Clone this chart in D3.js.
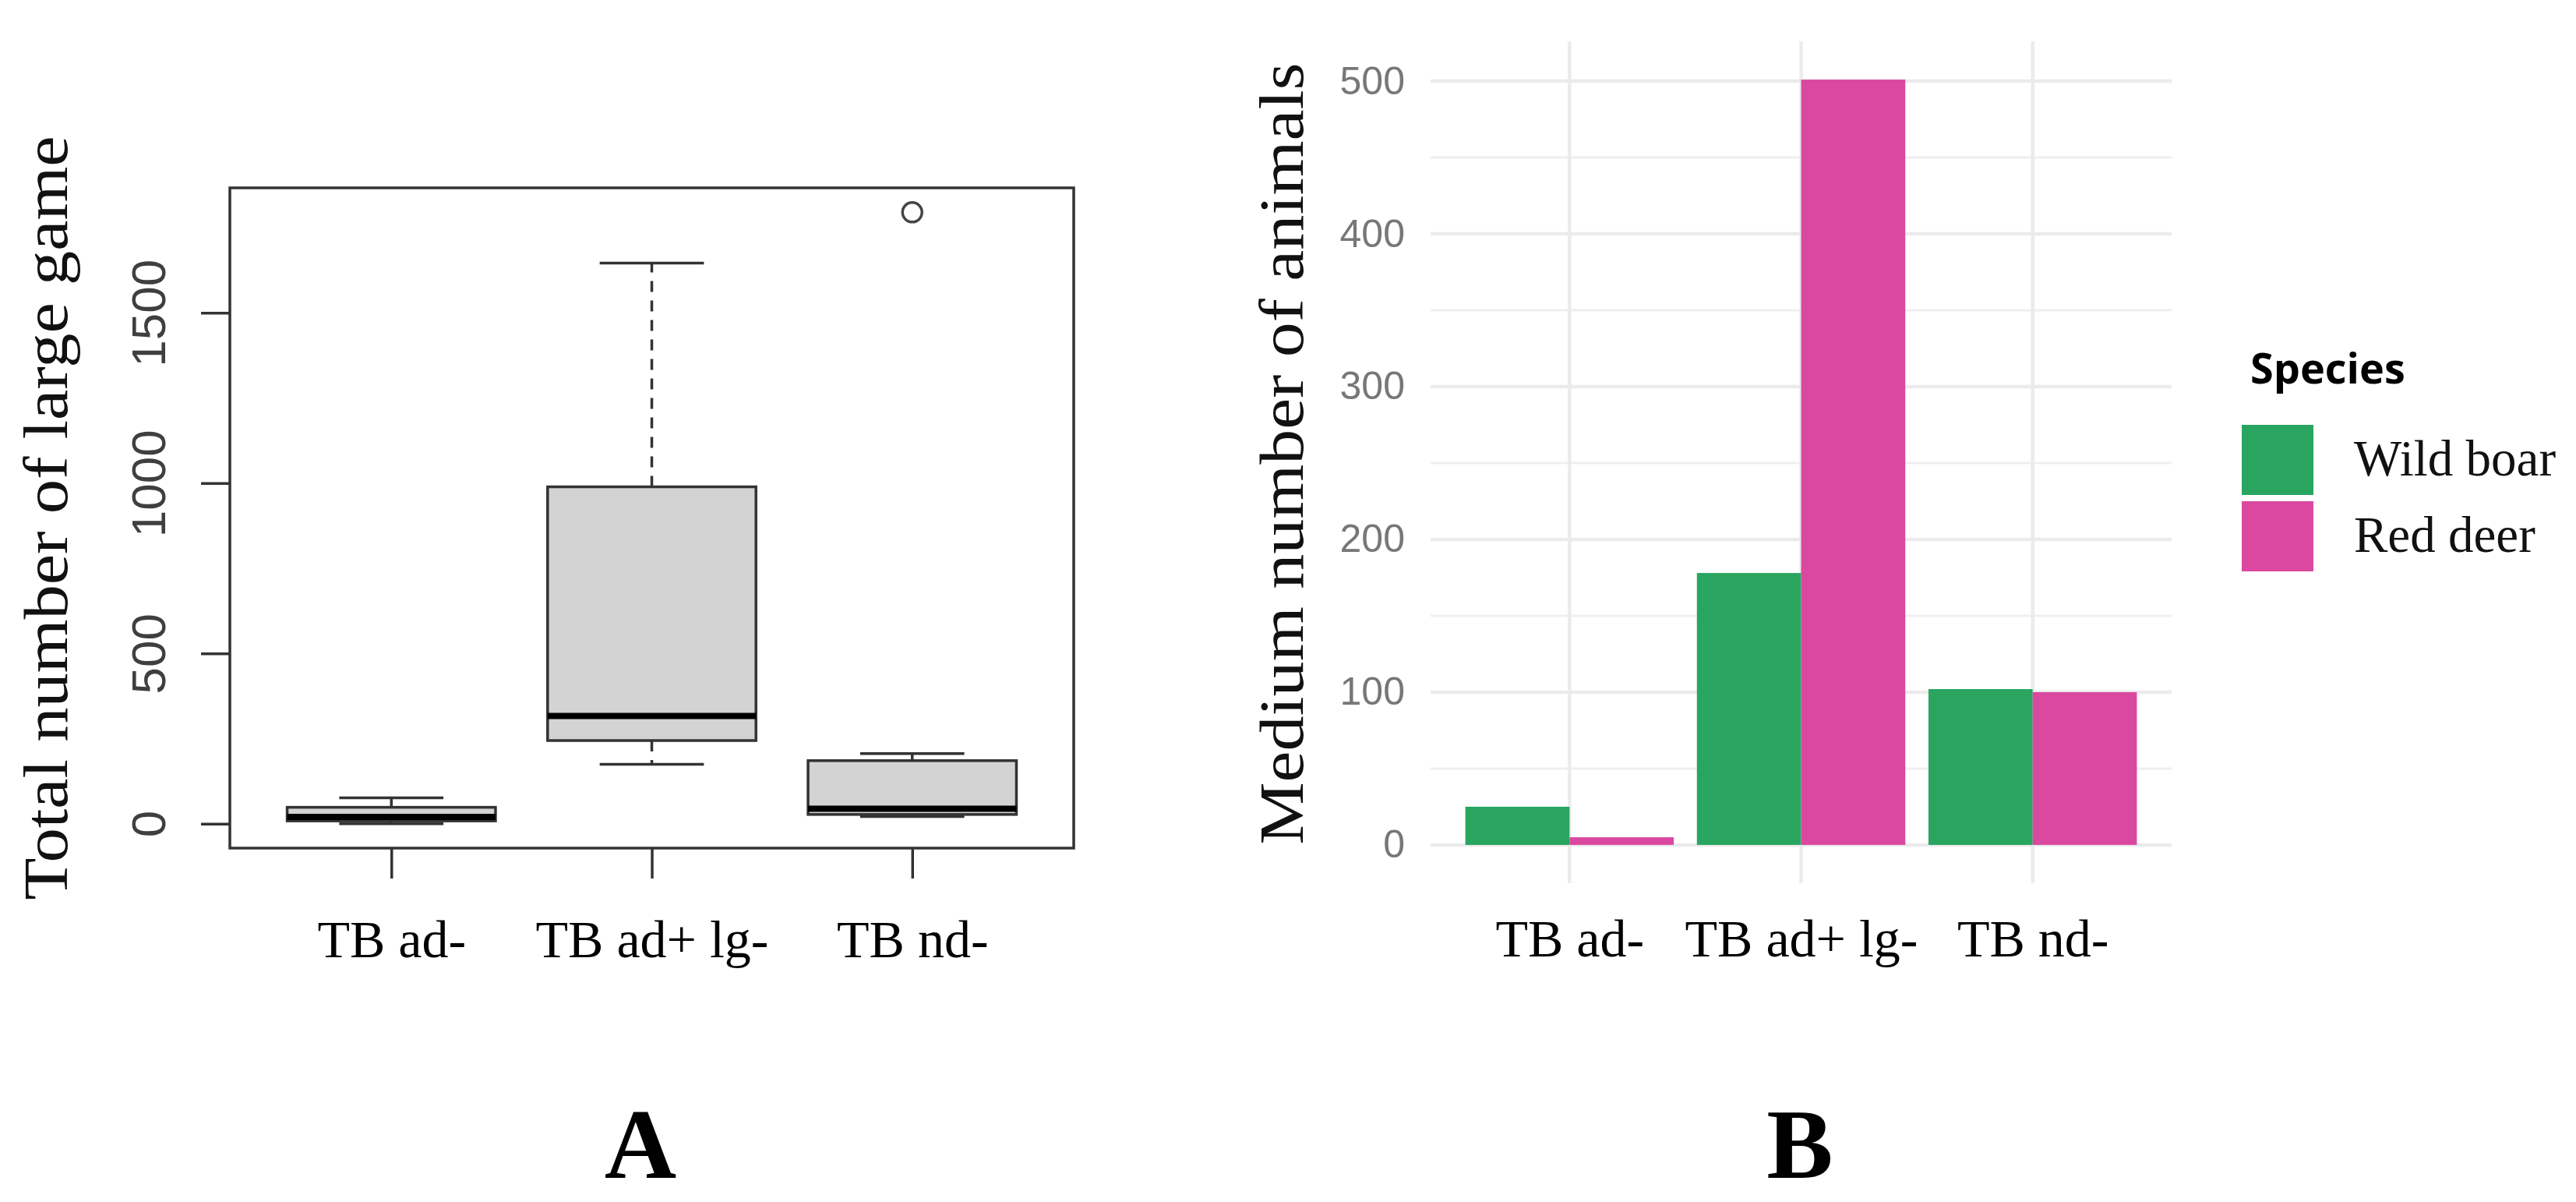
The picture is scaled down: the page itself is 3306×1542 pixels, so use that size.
<!DOCTYPE html>
<html><head><meta charset="utf-8">
<script src="https://cdn.jsdelivr.net/npm/d3@7"></script>
<style>html,body{margin:0;padding:0;background:#fff;} svg{display:block}</style>
</head><body>
<svg id="chart" width="3306" height="1542"></svg>
<script>
// ---------------- data ----------------
const categories = ["TB ad-", "TB ad+ lg-", "TB nd-"];
// Panel A: boxplot statistics per category
const whiskerLow  = [0, 174, 21];
const quartile1   = [8, 244, 27];
const medians     = [20, 316, 44];
const quartile3   = [48, 989, 185];
const whiskerHigh = [76, 1646, 206];
const outliers    = [[], [], [1795]];
const yTicksA     = [0, 500, 1000, 1500];
const titleA      = "Total number of large game";
// Panel B: grouped bars
const species     = ["Wild boar", "Red deer"];
const wildBoar    = [25, 178, 102];
const redDeer     = [5, 501, 100];
const yTicksB     = [0, 100, 200, 300, 400, 500];
const minorTicksB = [50, 150, 250, 350, 450];
const titleB      = "Medium number of animals";
const legendTitle = "Species";
const speciesColors = ["#29A560", "#DB489F"];
const panelLetters = ["A", "B"];

// ---------------- layout ----------------
const svg = d3.select("#chart");
svg.append("rect").attr("width", 3306).attr("height", 1542).attr("fill", "#fff");
const SERIF = "'Liberation Serif', 'DejaVu Serif', serif";
const SANS = "'Liberation Sans', Arial, sans-serif";

// ===== Panel A =====
const A = {left: 295, right: 1378, top: 241, bottom: 1088};
const allA = whiskerLow.concat(whiskerHigh, outliers.flat());
const minA = d3.min(allA), maxA = d3.max(allA);
const padA = (maxA - minA) * 0.04;
const yA = d3.scaleLinear().domain([minA - padA, maxA + padA]).range([A.bottom, A.top]);
const xA = d3.scaleLinear().domain([0.5 - 0.12, 3.5 + 0.12]).range([A.left, A.right]);
const gA = svg.append("g");

// y axis ticks
const yAxisA = gA.append("g").attr("transform", `translate(${A.left},0)`)
  .call(d3.axisLeft(yA).tickValues(yTicksA).tickSize(37).tickFormat(d3.format("d")));
yAxisA.select(".domain").remove();
yAxisA.selectAll(".tick line").attr("stroke", "#333").attr("stroke-width", 3.5);
yAxisA.selectAll(".tick text")
  .attr("x", null).attr("dy", null).attr("y", null)
  .attr("transform", `translate(${212 - A.left},0) rotate(-90)`)
  .attr("text-anchor", "middle")
  .attr("font-family", SANS).attr("font-size", 62).attr("fill", "#3f3f3f");

// x axis ticks
const xAxisA = gA.append("g").attr("transform", `translate(0,${A.bottom})`)
  .call(d3.axisBottom(xA).tickValues([1, 2, 3]).tickSize(39).tickFormat(d => categories[d - 1]));
xAxisA.select(".domain").remove();
xAxisA.selectAll(".tick line").attr("stroke", "#333").attr("stroke-width", 3.5);
xAxisA.selectAll(".tick text").attr("y", 140).attr("dy", null)
  .attr("font-family", SERIF).attr("font-size", 68).attr("fill", "#000");

// title A
gA.append("text").attr("transform", `translate(86,${(A.top + A.bottom) / 2}) rotate(-90)`)
  .attr("text-anchor", "middle").attr("font-family", SERIF).attr("font-size", 80)
  .attr("textLength", 980).attr("lengthAdjust", "spacingAndGlyphs")
  .attr("fill", "#111").text(titleA);

// boxes
const unitA = xA(2) - xA(1);
const boxHalf = 0.4 * unitA, capHalf = 0.2 * unitA;
categories.forEach((c, i) => {
  const cx = xA(i + 1);
  const g = gA.append("g");
  // whiskers (dashed)
  g.append("line").attr("x1", cx).attr("x2", cx)
    .attr("y1", yA(quartile3[i])).attr("y2", yA(whiskerHigh[i]))
    .attr("stroke", "#333").attr("stroke-width", 3.5).attr("stroke-dasharray", "14,11");
  g.append("line").attr("x1", cx).attr("x2", cx)
    .attr("y1", yA(quartile1[i])).attr("y2", yA(whiskerLow[i]))
    .attr("stroke", "#333").attr("stroke-width", 3.5).attr("stroke-dasharray", "14,11");
  // staples
  [whiskerHigh[i], whiskerLow[i]].forEach(v => {
    g.append("line").attr("x1", cx - capHalf).attr("x2", cx + capHalf)
      .attr("y1", yA(v)).attr("y2", yA(v))
      .attr("stroke", "#333").attr("stroke-width", 3.5);
  });
  // box
  g.append("rect").attr("x", cx - boxHalf).attr("width", 2 * boxHalf)
    .attr("y", yA(quartile3[i])).attr("height", yA(quartile1[i]) - yA(quartile3[i]))
    .attr("fill", "#d3d3d3").attr("stroke", "#333").attr("stroke-width", 3.5);
  // median
  g.append("line").attr("x1", cx - boxHalf).attr("x2", cx + boxHalf)
    .attr("y1", yA(medians[i])).attr("y2", yA(medians[i]))
    .attr("stroke", "#000").attr("stroke-width", 8);
  // outliers
  outliers[i].forEach(v => {
    g.append("circle").attr("cx", cx).attr("cy", yA(v)).attr("r", 12.5)
      .attr("fill", "none").attr("stroke", "#444").attr("stroke-width", 3.5);
  });
});

// frame
gA.append("rect").attr("x", A.left).attr("y", A.top)
  .attr("width", A.right - A.left).attr("height", A.bottom - A.top)
  .attr("fill", "none").attr("stroke", "#333").attr("stroke-width", 3.5);

// ===== Panel B =====
const B = {left: 1836, right: 2787, top: 53, bottom: 1133};
const maxB = d3.max(wildBoar.concat(redDeer));
const padB = maxB * 0.05;
const yB = d3.scaleLinear().domain([0 - padB, maxB + padB]).range([B.bottom, B.top]);
const xB = d3.scaleLinear().domain([0.4, 3.6]).range([B.left, B.right]);
const gB = svg.append("g");

// grid
gB.selectAll("line.minor").data(minorTicksB).join("line").attr("class", "minor")
  .attr("x1", B.left).attr("x2", B.right).attr("y1", d => yB(d)).attr("y2", d => yB(d))
  .attr("stroke", "#efefef").attr("stroke-width", 3);
gB.selectAll("line.majorH").data(yTicksB).join("line").attr("class", "majorH")
  .attr("x1", B.left).attr("x2", B.right).attr("y1", d => yB(d)).attr("y2", d => yB(d))
  .attr("stroke", "#ebebeb").attr("stroke-width", 4.5);
gB.selectAll("line.majorV").data([1, 2, 3]).join("line").attr("class", "majorV")
  .attr("x1", d => xB(d)).attr("x2", d => xB(d)).attr("y1", B.top).attr("y2", B.bottom)
  .attr("stroke", "#ebebeb").attr("stroke-width", 4.5);

// bars
const seriesB = [wildBoar, redDeer];
const barW = 0.45;
seriesB.forEach((vals, s) => {
  gB.selectAll(`rect.s${s}`).data(vals).join("rect").attr("class", `s${s}`)
    .attr("x", (d, i) => xB(i + 1 - barW + s * barW))
    .attr("width", xB(1 + barW) - xB(1))
    .attr("y", d => yB(d)).attr("height", d => yB(0) - yB(d))
    .attr("fill", speciesColors[s]);
});

// y axis labels
const yAxisB = gB.append("g").attr("transform", `translate(${B.left},0)`)
  .call(d3.axisLeft(yB).tickValues(yTicksB).tickSize(0).tickPadding(33));
yAxisB.select(".domain").remove();
yAxisB.selectAll(".tick text").attr("font-family", SANS).attr("font-size", 50).attr("fill", "#777");

// x axis labels
const xAxisB = gB.append("g").attr("transform", `translate(0,${B.bottom})`)
  .call(d3.axisBottom(xB).tickValues([1, 2, 3]).tickSize(0).tickFormat(d => categories[d - 1]));
xAxisB.select(".domain").remove();
xAxisB.selectAll(".tick text").attr("y", 94).attr("dy", null)
  .attr("font-family", SERIF).attr("font-size", 68).attr("fill", "#000");

// title B
gB.append("text").attr("transform", `translate(1672,582) rotate(-90)`)
  .attr("text-anchor", "middle").attr("font-family", SERIF).attr("font-size", 80)
  .attr("textLength", 1003).attr("lengthAdjust", "spacingAndGlyphs")
  .attr("fill", "#111").text(titleB);

// legend
const lg = gB.append("g").attr("transform", "translate(2877,0)");
lg.append("text").attr("x", 11).attr("y", 492).attr("font-family", "'Open Sans', sans-serif")
  .attr("font-weight", "bold").attr("font-size", 54).attr("fill", "#000").text(legendTitle);
species.forEach((sp, s) => {
  lg.append("rect").attr("x", 0).attr("y", 545 + s * 98).attr("width", 92).attr("height", 90)
    .attr("fill", speciesColors[s]);
  lg.append("text").attr("x", 144).attr("y", 545 + s * 98 + 45).attr("dy", "0.3em")
    .attr("font-family", SERIF).attr("font-size", 65).attr("fill", "#111").text(sp);
});

// panel letters
[822, 2310].forEach((x, i) => {
  svg.append("text").attr("x", x).attr("y", 1511).attr("text-anchor", "middle")
    .attr("font-family", SERIF).attr("font-weight", "bold").attr("font-size", 128)
    .attr("fill", "#000").text(panelLetters[i]);
});
</script>
</body></html>
